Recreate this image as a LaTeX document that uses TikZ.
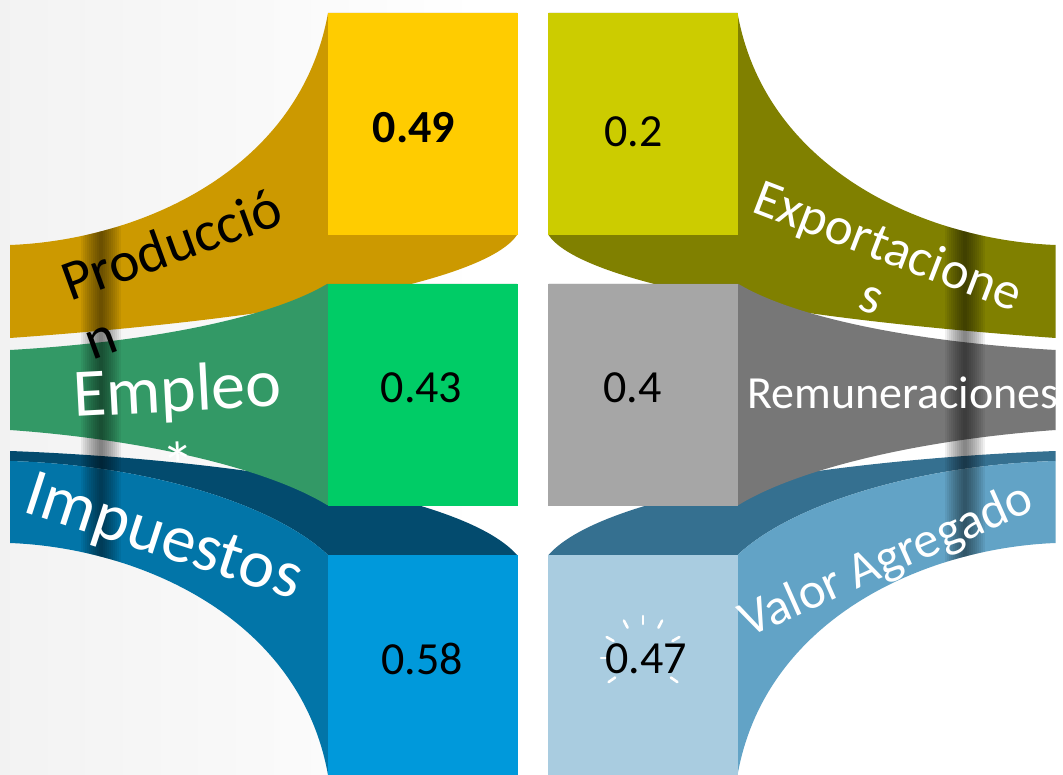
\documentclass[tikz,border=0pt]{standalone}
\usepackage{fontspec}
\setmainfont{Carlito}
\definecolor{cGold}{HTML}{CC9900}
\definecolor{cYellow}{HTML}{FFCC00}
\definecolor{cGreenR}{HTML}{339966}
\definecolor{cGreenS}{HTML}{00CC66}
\definecolor{cNavy}{HTML}{034B6E}
\definecolor{cBlueR}{HTML}{0275A8}
\definecolor{cBlueS}{HTML}{0099DB}
\definecolor{cOlive}{HTML}{808000}
\definecolor{cOliveS}{HTML}{CCCC00}
\definecolor{cGrayR}{HTML}{777777}
\definecolor{cGrayS}{HTML}{A6A6A6}
\definecolor{cSteel}{HTML}{357090}
\definecolor{cLBlueR}{HTML}{62A3C6}
\definecolor{cLBlueS}{HTML}{A9CCE0}
\newcommand\ribbonlayer[4]{%
  \fill[#1] (328,13) .. controls (300,170) and (140,240) .. (10,245) -- (10,338)
     .. controls (330,315) and (490,275) .. (517,235) -- (517,13) -- cycle;
  \fill[#3] (10,451) .. controls (200,458) and (460,490) .. (517,555) -- (328,555)
     .. controls (275,505) and (150,465) .. (10,461) -- cycle;
  \fill[#4] (10,461) .. controls (150,465) and (275,505) .. (328,555) -- (328,775)
     .. controls (300,618) and (140,548) .. (10,543) -- cycle;
  \fill[#2] (327,284) .. controls (270,318) and (150,342) .. (10,350) -- (10,430)
     .. controls (150,440) and (270,470) .. (327,505) -- (517,505) -- (517,284) -- cycle;
  \begin{scope}
    \clip (328,13) .. controls (300,170) and (140,240) .. (10,245) -- (10,543)
       .. controls (140,548) and (300,618) .. (328,775) -- cycle;
    \foreach \w in {2,4,...,20}{%
      \fill[black, opacity=0.06] (101-\w,200) rectangle (101+\w,600);}
  \end{scope}}
\begin{document}
\begin{tikzpicture}[x=1pt,y=-1pt,
  sq/.style={rectangle, inner sep=0pt, outer sep=0pt, draw=none, minimum width=190pt},
  num/.style={inner sep=0pt, text=black, font=\fontsize{46}{50}\selectfont},
  lbl/.style={inner sep=0pt, text=white},
  spark/.style={draw=white, line width=2.6pt, line cap=round}]
\useasboundingbox (0,0) rectangle (1063,775);
\fill[white] (0,0) rectangle (1063,775);
\shade[left color=black!5, right color=white] (0,0) rectangle (480,775);
% ribbons
\ribbonlayer{cGold}{cGreenR}{cNavy}{cBlueR}
\begin{scope}[xshift=1065.5pt, xscale=-1]
  \ribbonlayer{cOlive}{cGrayR}{cSteel}{cLBlueR}
\end{scope}
% squares
\node[sq, fill=cYellow, minimum height=222pt] (sqProd) at (422.5,124) {};
\node[sq, fill=cGreenS, minimum height=221.5pt] (sqEmp) at (422.5,394.75) {};
\node[sq, fill=cBlueS, minimum height=220pt] (sqImp) at (422.5,665) {};
\node[sq, fill=cOliveS, minimum height=222pt] (sqExp) at (643,124) {};
\node[sq, fill=cGrayS, minimum height=221.5pt] (sqRem) at (643,394.75) {};
\node[sq, fill=cLBlueS, minimum height=220pt] (sqVal) at (643,665) {};
% sparkle
\coordinate (spk) at (643,658);
\foreach \a in {90,117,63,150,30,180,215,325}
  \draw[spark] ([shift={(-\a:34)}]spk) -- ([shift={(-\a:42)}]spk);
% numbers
\node[num] (vProd) at (414,127.5) {\bfseries 0.49};
\node[num] (vExp) at (633.5,131.5) {0.2};
\node[num] (vEmp) at (421.5,388) {0.43};
\node[num] (vRem) at (632.5,388) {0.4};
\node[num] (vImp) at (422,659) {0.58};
\node[num] (vVal) at (646,659) {0.47};
% labels
\node[lbl, text=black, rotate=20, anchor=base west, font=\fontsize{57}{62}\selectfont] (tProd) at (70,302) {Producció};
\node[lbl, text=black, rotate=20, anchor=base west, font=\fontsize{57}{62}\selectfont] (tProdN) at (92,361) {n};
\node[lbl, rotate=3, anchor=base west, font=\fontsize{68}{72}\selectfont] (tEmp) at (74,417) {Empleo};
\node[lbl, rotate=3, anchor=base, font=\fontsize{66}{70}\selectfont] (tEmpA) at (180,489) {*};
\node[lbl, rotate=-18, anchor=base west, font=\fontsize{68}{72}\selectfont] (tImp) at (21,511) {Impuestos};
\node[lbl, rotate=-21, anchor=base west, font=\fontsize{53}{58}\selectfont] (tExp) at (750,211) {Exportacione};
\node[lbl, rotate=-21, anchor=base, font=\fontsize{53}{58}\selectfont] (tExpS) at (866,312) {s};
\node[lbl, anchor=base west, font=\fontsize{46}{50}\selectfont] (tRem) at (747,409) {Remuneraciones};
\node[lbl, rotate=24, anchor=base west, font=\fontsize{51}{56}\selectfont] (tVal) at (748,638) {Valor Agregado};
\end{tikzpicture}
\end{document}
